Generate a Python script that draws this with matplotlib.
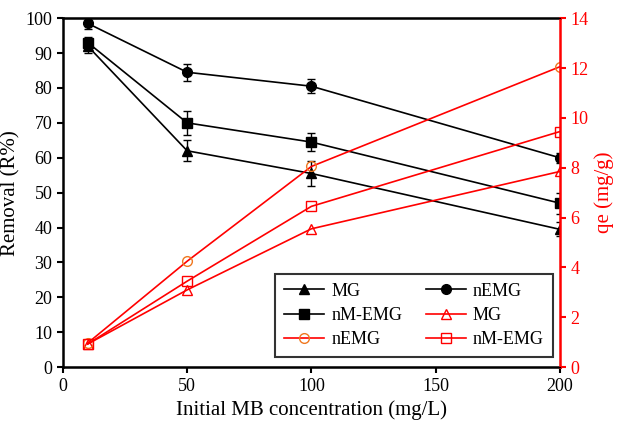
import matplotlib.pyplot as plt
from matplotlib.lines import Line2D

plt.rcParams['font.family'] = ['Liberation Serif', 'DejaVu Serif']

# Dados
conc = [10, 50, 100, 200]

rem_mg = [92, 62, 55.5, 39.5]
rem_mg_err = [2, 3, 3.5, 2]
rem_nemg = [98.5, 84.5, 80.5, 60]
rem_nemg_err = [1.5, 2.5, 2, 1.5]
rem_nmemg = [93, 70, 64.5, 47]
rem_nmemg_err = [1.5, 3.5, 2.5, 3]

qe_mg = [0.93, 3.1, 5.55, 7.85]
qe_nemg = [0.97, 4.25, 8.05, 12.05]
qe_nmemg = [0.93, 3.45, 6.45, 9.45]

fig = plt.figure(figsize=(6.29, 4.32), dpi=100)
ax = fig.add_axes([0.100, 0.150, 0.790, 0.808])
ax2 = ax.twinx()

# Remocao (eixo esquerdo)
kw = dict(color='black', lw=1.2, capsize=3, elinewidth=1, ms=7)
ax.errorbar(conc, rem_mg, yerr=rem_mg_err, marker='^', **kw)
ax.errorbar(conc, rem_nemg, yerr=rem_nemg_err, marker='o', **kw)
ax.errorbar(conc, rem_nmemg, yerr=rem_nmemg_err, marker='s', **kw)

# qe (eixo direito)
ax2.plot(conc, qe_mg, color='red', lw=1.2, marker='^', mfc='none', mec='red', ms=7)
ax2.plot(conc, qe_nemg, color='red', lw=1.2, marker='o', mfc='none', mec='#f07820', ms=7)
ax2.plot(conc, qe_nmemg, color='red', lw=1.2, marker='s', mfc='none', mec='red', ms=7)

ax.set_xlim(0, 200)
ax.set_ylim(0, 100)
ax.set_xticks([0, 50, 100, 150, 200])
ax.set_yticks(range(0, 101, 10))
ax2.set_ylim(0, 14)
ax2.set_yticks(range(0, 15, 2))

ax.set_xlabel('Initial MB concentration (mg/L)', fontsize=15)
ax.set_ylabel('Removal (R%)', fontsize=15)
ax2.set_ylabel('qe (mg/g)', fontsize=15, color='red')

ax.tick_params(labelsize=13, width=1.5, length=4, direction='out')
ax2.tick_params(labelsize=13, width=1.5, length=4, direction='out', colors='red')

for s in ['left', 'bottom', 'top']:
    ax.spines[s].set_linewidth(1.8)
ax2.spines['right'].set_color('red')
ax2.spines['right'].set_linewidth(1.8)
ax2.spines['left'].set_visible(False)
ax.spines['right'].set_visible(False)

# Legenda (ordem por colunas)
h_mg = Line2D([], [], color='black', marker='^', ms=7, lw=1.2)
h_nemg = Line2D([], [], color='black', marker='o', ms=7, lw=1.2)
h_nmemg = Line2D([], [], color='black', marker='s', ms=7, lw=1.2)
h_qmg = Line2D([], [], color='red', marker='^', mfc='none', mec='red', ms=7, lw=1.2)
h_qnemg = Line2D([], [], color='red', marker='o', mfc='none', mec='#f07820', ms=7, lw=1.2)
h_qnmemg = Line2D([], [], color='red', marker='s', mfc='none', mec='red', ms=7, lw=1.2)
handles = [h_mg, h_nmemg, h_qnemg, h_nemg, h_qmg, h_qnmemg]
labels = ['MG', 'nM-EMG', 'nEMG', 'nEMG', 'MG', 'nM-EMG']
leg = ax2.legend(handles, labels, ncol=2, loc='lower right', bbox_to_anchor=(0.986, 0.029),
                 borderaxespad=0, fontsize=13, frameon=True, fancybox=False, edgecolor='black',
                 handlelength=2.2, handletextpad=0.4, columnspacing=1.3,
                 borderpad=0.5, labelspacing=0.4)
leg.get_frame().set_linewidth(1.5)

fig.savefig('out.png', dpi=100)
